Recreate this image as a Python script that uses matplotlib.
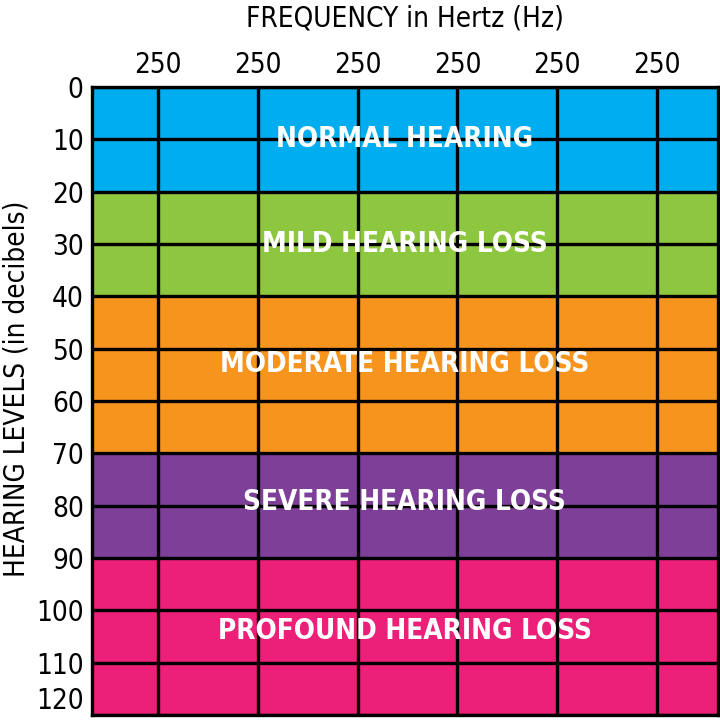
import matplotlib
matplotlib.use("Agg")
import matplotlib.pyplot as plt

# hearing bands (dB ranges) and their labels
band_starts = [0, 20, 40, 70, 90]
band_ends = [20, 40, 70, 90, 120]
band_names = ["NORMAL HEARING", "MILD HEARING LOSS", "MODERATE HEARING LOSS",
              "SEVERE HEARING LOSS", "PROFOUND HEARING LOSS"]
band_colors = ["#00aeef", "#8dc63f", "#f7941d", "#7d3f98", "#ec1f79"]
band_label_y = [10, 30, 53, 79.3, 104]

freq_labels = ["250", "250", "250", "250", "250", "250"]
freq_pos = [0, 1, 2, 3, 4, 5]
db_ticks = list(range(0, 121, 10))

plt.rcParams["font.family"] = ["DejaVu Sans"]
plt.rcParams["font.stretch"] = "condensed"

fig = plt.figure(figsize=(7.2, 7.22), dpi=100)
ax = fig.add_axes([92 / 720, 7 / 722, 626 / 720, 628 / 722])

for lo, hi, c in zip(band_starts, band_ends, band_colors):
    ax.axhspan(lo, hi, color=c, zorder=0)

ax.set_xlim(-0.66, 5.61)
ax.set_ylim(120, 0)

for x in freq_pos:
    ax.axvline(x, color="black", lw=2.4, zorder=1)
for y in db_ticks:
    ax.axhline(y, color="black", lw=2.4, zorder=1)

for name, y in zip(band_names, band_label_y):
    ax.text(2.47, y, name, color="white", fontsize=20, fontweight="bold",
            ha="center", va="center", zorder=3)

ax.xaxis.tick_top()
ax.set_xticks(freq_pos)
ax.set_xticklabels(freq_labels, fontsize=20)
ax.set_yticks(db_ticks)
ax.set_yticklabels([str(v) for v in db_ticks], fontsize=20)
ax.get_yticklabels()[-1].set_va("bottom")
ax.tick_params(length=0, pad=6)
for s in ax.spines.values():
    s.set_linewidth(2.4)

ax.set_ylabel("HEARING LEVELS (in decibels)", fontsize=20)
ax.yaxis.set_label_coords(-0.098, 0.52)
fig.text(405 / 720, 1 - 18 / 722, "FREQUENCY in Hertz (Hz)", fontsize=20,
         ha="center", va="center")

fig.savefig("out.png", dpi=100)
